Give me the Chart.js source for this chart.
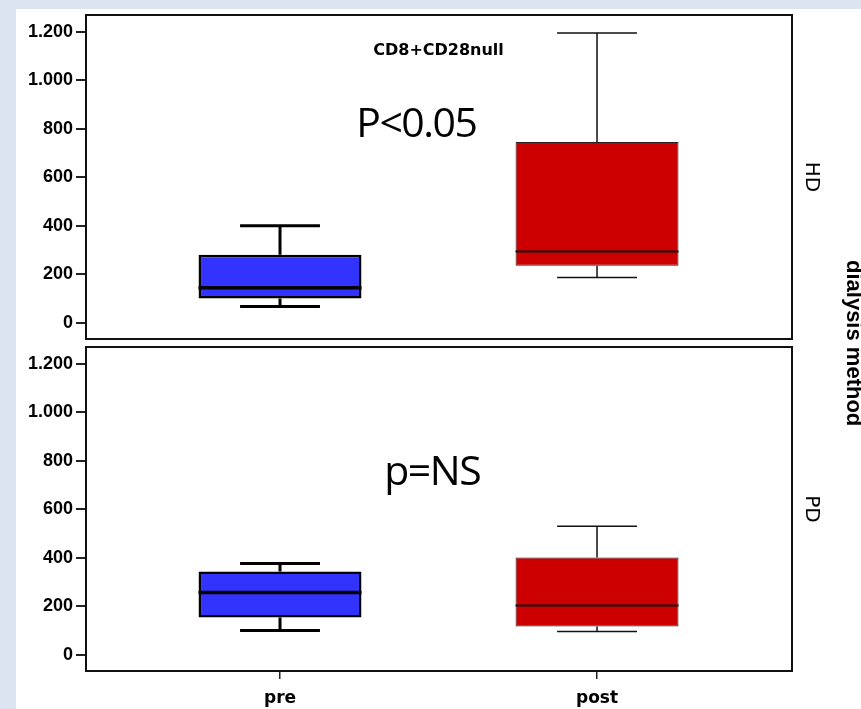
<!DOCTYPE html>
<html><head><meta charset="utf-8">
<script src="https://cdn.jsdelivr.net/npm/chart.js@4/dist/chart.umd.min.js"></script>
<style>
html,body{margin:0;padding:0;background:#dce4f2;width:861px;height:709px;overflow:hidden}
#sheet{position:absolute;left:16px;top:9px;width:845px;height:700px;background:#fff}
canvas{position:absolute;left:0}
#c1{top:0}
#c2{top:333px}
#method{position:absolute;left:843px;top:260px;writing-mode:vertical-rl;font:bold 22px "Liberation Sans",Arial,sans-serif;line-height:22px;color:#000;white-space:nowrap}
</style></head>
<body>
<div id="sheet"></div>
<canvas id="c1" width="861" height="353"></canvas>
<canvas id="c2" width="861" height="376"></canvas>
<div id="method">dialysis method</div>
<script>
// ---- data ----
const categories = ['pre', 'post'];
const panels = ['HD', 'PD'];
// box stats: [lower whisker, Q1, median, Q3, upper whisker]
const hdPre  = [66, 99, 144, 280, 400];
const hdPost = [186, 235, 293, 746, 1196];
const pdPre  = [99, 153, 256, 343, 376];
const pdPost = [95, 116, 203, 401, 530];
const yTickValues = [0, 200, 400, 600, 800, 1000, 1200];
const yTickLabels = ['0', '200', '400', '600', '800', '1.000', '1.200'];
const chartTitle = 'CD8+CD28null';
const pLabels = ['P<0.05', 'p=NS'];

// ---- styles ----
const boxStyles = [
  {fill: '#3333ff', border: '#000', borderW: 2.5, line: '#000', lineW: 3, medW: 3.5},
  {fill: '#cc0000', border: '#222', borderW: 1, line: '#111', lineW: 1.5, medW: 2}
];
const CAP = 0.126, HALF = 0.257;

function buildDatasets(stats) {
  const ds = [{
    type: 'bar',
    data: stats.map((s, i) => ({x: i, y: [s[1], s[3]]})),
    backgroundColor: boxStyles.map(b => b.fill),
    borderColor: boxStyles.map(b => b.border),
    borderWidth: boxStyles.map(b => b.borderW),
    borderSkipped: false,
    categoryPercentage: 1,
    barPercentage: 0.514,
    order: 3
  }];
  stats.forEach((s, i) => {
    const st = boxStyles[i];
    ds.push({
      type: 'line', order: 1, borderColor: st.line, borderWidth: st.lineW,
      pointRadius: 0, fill: false, tension: 0, spanGaps: false,
      data: [
        {x: i, y: s[3]}, {x: i, y: s[4]}, {x: i, y: null},
        {x: i - CAP, y: s[4]}, {x: i + CAP, y: s[4]}, {x: i, y: null},
        {x: i, y: s[1]}, {x: i, y: s[0]}, {x: i, y: null},
        {x: i - CAP, y: s[0]}, {x: i + CAP, y: s[0]}
      ]
    });
    ds.push({
      type: 'line', order: 0, borderColor: st.line, borderWidth: st.medW,
      pointRadius: 0, fill: false, tension: 0,
      data: [{x: i - HALF, y: s[2]}, {x: i + HALF, y: s[2]}]
    });
  });
  return ds;
}

const framePlugin = {
  id: 'frame',
  afterDatasetsDraw(chart) {
    const a = chart.chartArea, ctx = chart.ctx;
    ctx.save();
    ctx.strokeStyle = '#111';
    ctx.lineWidth = 2;
    ctx.strokeRect(a.left, a.top, a.right - a.left, a.bottom - a.top);
    ctx.restore();
  }
};
const annotPlugin = {
  id: 'annot',
  afterDatasetsDraw(chart, args, opts) {
    const ctx = chart.ctx, xs = chart.scales.x, ys = chart.scales.y;
    (opts.items || []).forEach(it => {
      ctx.save();
      ctx.font = it.font;
      ctx.fillStyle = '#000';
      ctx.textAlign = 'center';
      ctx.textBaseline = 'alphabetic';
      if (it.spacing) ctx.letterSpacing = it.spacing;
      ctx.fillText(it.text, xs.getPixelForValue(it.x), ys.getPixelForValue(it.y));
      ctx.restore();
    });
  }
};

function makeOptions(panelIdx, showX, annots) {
  return {
    responsive: false, animation: false, events: [],
    layout: {padding: showX ? {top: 14, bottom: 0, left: 0, right: 0} : {top: 15, bottom: 14, left: 0, right: 0}},
    plugins: {legend: {display: false}, tooltip: {enabled: false}, annot: {items: annots}},
    scales: {
      x: {
        type: 'linear', min: -0.612, max: 1.615, display: showX, offset: false,
        afterBuildTicks: s => { s.ticks = categories.map((c, i) => ({value: i})); },
        afterFit: s => { if (showX) s.height = 38; },
        ticks: {callback: v => categories[v], color: '#000', padding: 9,
                font: {family: 'DejaVu Sans', weight: 'bold', size: 17}, maxRotation: 0},
        grid: {drawOnChartArea: false, drawTicks: true, tickLength: 8, color: '#222', lineWidth: 1.5, offset: false},
        border: {display: false}
      },
      y: {
        type: 'linear', min: -68, max: 1270, position: 'left',
        afterBuildTicks: s => { s.ticks = yTickValues.map(v => ({value: v})); },
        afterFit: s => { s.width = 86; },
        ticks: {callback: v => yTickLabels[yTickValues.indexOf(v)], color: '#000', padding: 3,
                font: {family: 'Liberation Sans', weight: 'bold', size: 18}},
        grid: {drawOnChartArea: false, drawTicks: true, tickLength: 10, color: '#222', lineWidth: 2},
        border: {display: false}
      },
      yr: {
        type: 'linear', position: 'right', min: 0, max: 1,
        afterFit: s => { s.width = 69; },
        ticks: {display: false}, grid: {display: false}, border: {display: false},
        title: {display: true, text: panels[panelIdx], color: '#000',
                font: {family: 'DejaVu Sans', size: 20}, padding: {top: 38, bottom: 0}}
      }
    }
  };
}

new Chart(document.getElementById('c1'), {
  type: 'bar',
  data: {datasets: buildDatasets([hdPre, hdPost])},
  options: makeOptions(0, false, [
    {text: chartTitle, x: 0.5, y: 1105, font: 'bold 16px "DejaVu Sans"'},
    {text: pLabels[0], x: 0.43, y: 768, font: '41px "Open Sans"', spacing: '-1.5px'}
  ]),
  plugins: [framePlugin, annotPlugin]
});
new Chart(document.getElementById('c2'), {
  type: 'bar',
  data: {datasets: buildDatasets([pdPre, pdPost])},
  options: makeOptions(1, true, [
    {text: pLabels[1], x: 0.48, y: 700, font: '41px "Open Sans"', spacing: '-1.5px'}
  ]),
  plugins: [framePlugin, annotPlugin]
});
</script>
</body></html>
